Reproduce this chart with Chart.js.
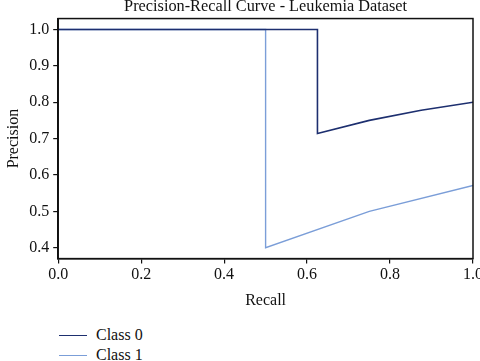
<!DOCTYPE html>
<html lang="en">
<head>
  <meta charset="UTF-8" />
  <title>Precision-Recall Curve - Leukemia Dataset</title>
  <script src="https://cdn.jsdelivr.net/npm/chart.js"></script>
  <style>
    body {
      margin: 0;
      background: #fff;
      font-family: 'Liberation Serif', serif;
      width: 480px;
      height: 361px;
      overflow: hidden;
      position: relative;
    }
    .chart-box {
      position: absolute;
      left: 0;
      top: -3px;
      width: 485px;
      height: 317px;
    }
    .legend {
      position: absolute;
      left: 59px;
      top: 325px;
      font-size: 16px;
      color: #111;
    }
    .legend div {
      height: 20px;
      line-height: 20px;
      display: flex;
      align-items: center;
    }
    .legend span.swatch {
      display: inline-block;
      width: 28px;
      height: 0;
      margin-right: 9px;
    }
  </style>
</head>
<body>

<div class="chart-box"><canvas id="pr-chart"></canvas></div>
<div class="legend" id="legend"></div>

<script>
  const seriesNames = ["Class 0", "Class 1"];
  const seriesColors = ["#1d2f6f", "#7b9ed8"];
  const class0Recall = [0, 0.625, 0.625, 0.75, 0.875, 1.0];
  const class0Precision = [1.0, 1.0, 0.714, 0.75, 0.778, 0.8];
  const class1Recall = [0, 0.5, 0.5, 0.75, 1.0];
  const class1Precision = [1.0, 1.0, 0.4, 0.5, 0.571];
  const xTicks = [0, 0.2, 0.4, 0.6, 0.8, 1.0];
  const yTicks = [0.4, 0.5, 0.6, 0.7, 0.8, 0.9, 1.0];

  const toPoints = (xs, ys) => xs.map((x, i) => ({ x: x, y: ys[i] }));

  // frame round the plot area
  const frame = {
    id: 'frame',
    afterDraw(chart) {
      const a = chart.chartArea;
      const c = chart.ctx;
      c.save();
      c.strokeStyle = '#111';
      c.lineWidth = 1.5;
      c.strokeRect(a.left, a.top, a.right - a.left, a.bottom - a.top);
      c.restore();
    }
  };

  const font = { family: "'Liberation Serif', serif", size: 16 };

  new Chart(document.getElementById('pr-chart'), {
    type: 'line',
    data: {
      datasets: [
        {
          label: seriesNames[0],
          data: toPoints(class0Recall, class0Precision),
          borderColor: seriesColors[0],
          borderWidth: 1.6,
          pointRadius: 0,
          tension: 0
        },
        {
          label: seriesNames[1],
          data: toPoints(class1Recall, class1Precision),
          borderColor: seriesColors[1],
          borderWidth: 1.4,
          pointRadius: 0,
          tension: 0
        }
      ]
    },
    options: {
      responsive: true,
      maintainAspectRatio: false,
      animation: false,
      layout: { padding: { left: 0, right: 5, top: 0, bottom: 0 } },
      plugins: {
        legend: { display: false },
        tooltip: { enabled: false },
        title: {
          display: true,
          fullSize: false,
          text: 'Precision-Recall Curve - Leukemia Dataset',
          color: '#111',
          font: { family: font.family, size: 16.3, weight: 'normal' },
          padding: { top: 0, bottom: 2 }
        }
      },
      scales: {
        x: {
          type: 'linear',
          min: 0,
          max: 1,
          afterBuildTicks: axis => { axis.ticks = xTicks.map(v => ({ value: v })); },
          ticks: {
            color: '#111',
            font: font,
            padding: 2,
            callback: v => v.toFixed(1)
          },
          grid: { drawOnChartArea: false, tickLength: 5, color: '#111', lineWidth: 1.2 },
          border: { color: '#111', width: 1.5 },
          title: { display: true, text: 'Recall', color: '#111', font: font, padding: { top: 4 } }
        },
        y: {
          type: 'linear',
          min: 0.37,
          max: 1.03,
          afterBuildTicks: axis => { axis.ticks = yTicks.map(v => ({ value: v })); },
          ticks: {
            color: '#111',
            font: font,
            padding: 4,
            callback: v => v.toFixed(1)
          },
          grid: { drawOnChartArea: false, tickLength: 5, color: '#111', lineWidth: 1.2 },
          border: { color: '#111', width: 1.5 },
          title: { display: true, text: 'Precision', color: '#111', font: font, padding: { bottom: 2 } }
        }
      }
    },
    plugins: [frame]
  });

  const legend = document.getElementById('legend');
  seriesNames.forEach((name, i) => {
    const row = document.createElement('div');
    const sw = document.createElement('span');
    sw.className = 'swatch';
    sw.style.borderTop = '1.6px solid ' + seriesColors[i];
    row.appendChild(sw);
    row.appendChild(document.createTextNode(name));
    legend.appendChild(row);
  });
</script>

</body>
</html>
